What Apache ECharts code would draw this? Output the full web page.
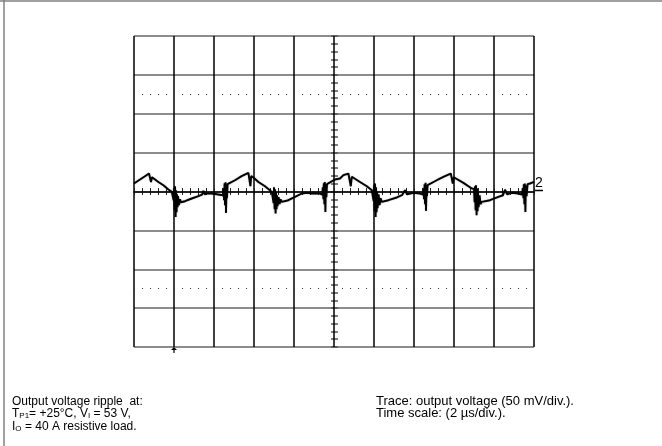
<!DOCTYPE html>
<html><head><meta charset="utf-8">
<script src="https://cdn.jsdelivr.net/npm/echarts@6/dist/echarts.min.js"></script>
<style>html,body{margin:0;padding:0;background:#fff}#c{width:662px;height:446px}</style>
</head><body><div id="c"></div>
<script>
// Time axis: 2 µs/div, 10 divisions; voltage axis: 50 mV/div, 8 divisions
const timeRange = [0, 20];
const timeDiv = 2;
const voltRange = [-200, 200];
const voltDiv = 50;
const timeMinorStep = 0.4;
const voltMinorStep = 10;
const dotLevels = [125, -125];
const triggerTime = 2;

// Output voltage trace [µs, mV]
const traceA = [[0.00,10.3],[0.30,15.4],[0.55,19.7],[0.75,23.1],[0.80,22.2],[0.85,12.3],[0.90,18.4],[0.97,18.0],[1.22,12.3],[1.47,8.1],[1.72,2.6],[1.89,-0.5],
[1.95,1.7],[1.98,-11.2],[2.00,4.2],[2.03,-24.0],[2.05,6.8],[2.08,-32.7],[2.10,1.7],[2.13,-26.6],[2.15,-3.5],[2.18,-20.2],[2.20,-6.0],[2.25,-17.6],[2.30,-10.0],[2.35,-13.8],
[2.55,-12.5],[2.89,-9.0],[3.22,-6.0],[3.40,-4.1],[3.47,1.0],[3.53,-3.5],[3.64,-2.6],[3.89,-2.6],[4.22,-3.9],[4.44,-4.8],
[4.48,4.2],[4.50,-11.2],[4.53,10.7],[4.55,-17.6],[4.58,12.0],[4.60,-27.5],[4.63,8.1],[4.65,-8.6],[4.68,9.4],[4.72,10.3]];
const traceB = [[5.05,14.5],[5.38,19.7],[5.72,23.9],[5.78,22.9],[5.82,6.8],[5.86,19.7],[5.97,18.0],[6.22,12.3],[6.55,6.8],[6.89,-0.5],
[6.95,1.7],[6.98,-15.0],[7.00,5.5],[7.03,-22.9],[7.05,2.9],[7.08,-28.3],[7.10,-0.9],[7.13,-22.9],[7.15,-4.8],[7.18,-18.9],[7.23,-7.3],[7.28,-16.3],[7.33,-10.0],[7.39,-13.4],
[7.72,-11.2],[8.05,-6.9],[8.39,-2.6],[8.64,-1.8],[8.89,-2.6],[9.30,-2.6],[9.42,-3.9],
[9.44,5.5],[9.47,-9.9],[9.49,10.7],[9.52,-16.3],[9.54,12.3],[9.57,-26.2],[9.59,9.4],[9.62,-7.3],[9.65,9.4],[9.72,10.3]];
const traceC = [[10.05,15.4],[10.30,16.7],[10.47,21.0],[10.72,23.1],[10.79,22.2],[10.84,6.8],[10.89,19.0],[10.97,18.8],[11.30,12.3],[11.64,6.8],[11.89,1.7],
[11.95,3.0],[11.98,-12.5],[12.00,8.1],[12.03,-25.3],[12.05,10.3],[12.08,-32.7],[12.10,5.5],[12.13,-26.6],[12.15,0.4],[12.18,-21.5],[12.23,-3.5],[12.28,-17.6],[12.33,-8.6],[12.39,-13.4],
[12.72,-11.2],[13.14,-7.7],[13.40,-4.8],[13.55,1.7],[13.65,-3.5],[13.97,-1.8],[14.30,-2.6],[14.45,-4.1],
[14.48,4.2],[14.50,-9.9],[14.53,9.4],[14.55,-16.3],[14.58,11.1],[14.60,-24.9],[14.63,8.1],[14.65,-6.0],[14.68,8.1],[14.72,8.1]];
const traceD = [[15.14,14.5],[15.55,19.7],[15.84,23.1],[15.89,22.2],[15.94,10.3],[15.99,18.4],[16.05,18.0],[16.47,11.1],[16.89,3.9],
[17.00,3.0],[17.03,-13.8],[17.05,6.8],[17.08,-24.0],[17.10,8.1],[17.13,-30.5],[17.15,4.2],[17.18,-25.3],[17.20,-0.9],[17.23,-20.2],[17.28,-4.8],[17.33,-16.3],[17.39,-13.4],
[17.80,-11.2],[18.22,-6.9],[18.45,-4.8],[18.55,2.3],[18.65,-3.5],[18.89,-1.8],[19.22,-2.6],[19.40,-4.1],
[19.44,4.2],[19.47,-8.6],[19.49,9.4],[19.52,-16.3],[19.54,10.3],[19.57,-26.2],[19.59,8.1],[19.63,-6.0],[19.68,9.4],[19.80,10.3],[20.00,12.3]];

const leftNote = '{n|Output voltage ripple  at:}\n{n|T}{s|P1}{n|= +25°C, V}{s|I}{n| = 53 V,}\n{n|I}{s|O}{n| = 40 A resistive load.}';
const rightNote = 'Trace: output voltage (50 mV/div.).\nTime scale: (2 µs/div.).';
const channelLabel = '2';

const FONT = '"Liberation Sans", Arial, sans-serif';
const chart = echarts.init(document.getElementById('c'), null, {renderer: 'canvas'});
const hiddenAxis = (gi, range) => ({type: 'value', gridIndex: gi, min: range[0], max: range[1], show: true,
  axisLine: {show: false}, axisTick: {show: false}, axisLabel: {show: false}, splitLine: {show: false}});

chart.setOption({
  animation: false,
  backgroundColor: '#fff',
  grid: [
    {left: 134, top: 36, width: 400, height: 311, containLabel: false},
    {left: 134, top: 188, width: 400, height: 7},
    {left: 331, top: 36, width: 7, height: 311}
  ],
  xAxis: [
    {type: 'value', gridIndex: 0, min: timeRange[0], max: timeRange[1], interval: timeDiv,
     axisLine: {show: true, onZero: true, lineStyle: {color: '#000', width: 1.5}},
     axisTick: {show: false}, axisLabel: {show: false},
     splitLine: {show: true, lineStyle: {color: '#000', width: 1.5}}},
    {type: 'value', gridIndex: 1, min: timeRange[0], max: timeRange[1], interval: timeMinorStep,
     axisLine: {show: false}, axisTick: {show: false}, axisLabel: {show: false},
     splitLine: {show: true, lineStyle: {color: '#222', width: 1}}},
    hiddenAxis(2, [0, 1])
  ],
  yAxis: [
    {type: 'value', gridIndex: 0, min: voltRange[0], max: voltRange[1], interval: voltDiv,
     axisLine: {show: false}, axisTick: {show: false}, axisLabel: {show: false},
     splitLine: {show: true, lineStyle: {color: '#8c8c8c', width: 2}}},
    hiddenAxis(1, [0, 1]),
    {type: 'value', gridIndex: 2, min: voltRange[0], max: voltRange[1], interval: voltMinorStep,
     axisLine: {show: false}, axisTick: {show: false}, axisLabel: {show: false},
     splitLine: {show: true, lineStyle: {color: '#555', width: 1.5}}}
  ],
  series: [{
    type: 'line', xAxisIndex: 0, yAxisIndex: 0,
    data: traceA.concat(traceB, traceC, traceD),
    showSymbol: false, symbol: 'none', smooth: false, clip: true,
    lineStyle: {color: '#000', width: 1.9, shadowColor: 'rgba(0,0,0,0.35)', shadowBlur: 1.5},
    z: 5,
    markLine: {
      silent: true, symbol: 'none', label: {show: false},
      lineStyle: {color: '#333', width: 1, type: [1, 7], shadowBlur: 0},
      data: dotLevels.map(v => ({yAxis: v}))
    },
    markPoint: {
      silent: true,
      symbol: 'path://M5,0 L10,5 L6,5 L6,10 L4,10 L4,5 L0,5 Z',
      symbolSize: [6, 6], symbolOffset: [0, 3],
      itemStyle: {color: '#000'}, label: {show: false},
      data: [{coord: [triggerTime, voltRange[0]]}]
    }
  }],
  graphic: [
    {type: 'line', shape: {x1: 0, y1: 1, x2: 662, y2: 1}, style: {stroke: '#808080', lineWidth: 1.5}, silent: true},
    {type: 'line', shape: {x1: 4, y1: 0, x2: 4, y2: 446}, style: {stroke: '#808080', lineWidth: 1.5}, silent: true},
    {type: 'line', shape: {x1: 534, y1: 190.5, x2: 543, y2: 190.5}, style: {stroke: '#000', lineWidth: 1.5}, silent: true},
    {type: 'text', x: 535, y: 176, style: {text: channelLabel, font: '14px ' + FONT, fill: '#000'}, silent: true},
    {type: 'text', x: 12, y: 395, silent: true, style: {
      text: leftNote, fill: '#000', font: '12px ' + FONT,
      rich: {
        n: {fontSize: 12, fontFamily: FONT, lineHeight: 12.5, fill: '#000'},
        s: {fontSize: 8, fontFamily: FONT, lineHeight: 7, verticalAlign: 'bottom', fill: '#000'}
      }}},
    {type: 'text', x: 376, y: 395, silent: true, style: {
      text: rightNote, fill: '#000', font: '13px ' + FONT, lineHeight: 12.5}}
  ]
});
</script>
</body></html>
